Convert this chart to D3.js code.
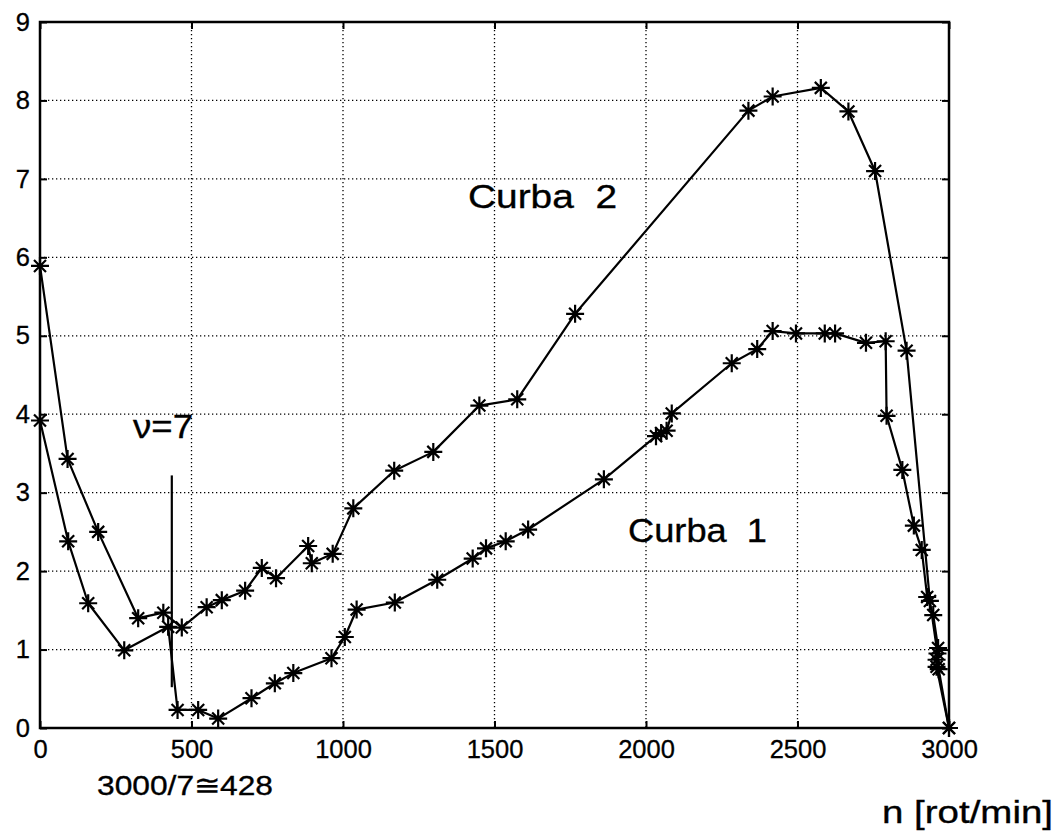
<!DOCTYPE html>
<html>
<head>
    <script src="https://d3js.org/d3.v7.min.js"></script>
    <style>
      body { margin: 0; background: #fff; }
      .tick-label { font-family: 'Liberation Sans', Arial, sans-serif; font-size: 25.5px; fill: #000; stroke: #000; stroke-width: 0.3px; }
      .note { font-family: 'Liberation Sans', Arial, sans-serif; fill: #000; stroke: #000; stroke-width: 0.35px; }
    </style>
</head>
<body>
    <svg width="1060" height="832"></svg>
    <script>
        // Curba 1 (lower curve): n [rot/min], value
        const curba1N = [0, 93, 159, 278, 423, 454, 522, 588, 698, 775, 836, 962, 1006, 1045, 1171, 1311, 1428, 1472, 1537, 1611,
                         1861, 2033, 2050, 2068, 2085, 2283, 2367, 2418, 2495, 2590, 2624, 2726, 2791, 2794, 2846, 2884, 2910,
                         2928, 2948, 2964, 2959, 2959, 3000];
        const curba1V = [3.92, 2.38, 1.59, 0.99, 1.29, 0.23, 0.23, 0.12, 0.38, 0.57, 0.70, 0.89, 1.16, 1.51, 1.60, 1.89, 2.16, 2.29, 2.38, 2.53,
                         3.17, 3.72, 3.76, 3.79, 4.01, 4.65, 4.83, 5.06, 5.03, 5.03, 5.03, 4.91, 4.93, 3.98, 3.29, 2.58, 2.27,
                         1.67, 1.44, 1.02, 0.87, 0.78, 0];

        // Curba 2 (upper curve)
        const curba2N = [0, 91, 192, 324, 407, 468, 550, 600, 677, 732, 779, 885, 897, 966, 1034, 1169, 1298, 1450, 1575, 1766,
                         2338, 2418, 2577, 2668, 2756, 2860, 2937, 2962, 2966, 3000];
        const curba2V = [5.89, 3.43, 2.50, 1.40, 1.47, 1.28, 1.54, 1.63, 1.75, 2.04, 1.91, 2.32, 2.10, 2.22, 2.80, 3.28, 3.52, 4.11, 4.19, 5.28,
                         7.87, 8.05, 8.16, 7.86, 7.10, 4.81, 1.62, 0.95, 0.75, 0];

        const xTicks = [0, 500, 1000, 1500, 2000, 2500, 3000];
        const yTicks = [0, 1, 2, 3, 4, 5, 6, 7, 8, 9];

        // nu = 7 marker line at n ~ 3000/7
        const markN = 435;
        const markV = [0.52, 3.22];

        const svg = d3.select("svg");
        const plotL = 40, plotR = 949, plotT = 22, plotB = 728;

        const x = d3.scaleLinear().domain([0, 3000]).range([plotL, plotR]);
        const y = d3.scaleLinear().domain([0, 9]).range([plotB, plotT]);

        // grid
        svg.append("g").selectAll("line").data(xTicks.slice(1, -1)).join("line")
           .attr("x1", d => x(d)).attr("x2", d => x(d))
           .attr("y1", plotT).attr("y2", plotB)
           .attr("stroke", "#000").attr("stroke-width", 1.3).attr("stroke-dasharray", "1.3,2.7");
        svg.append("g").selectAll("line").data(yTicks.slice(1, -1)).join("line")
           .attr("x1", plotL).attr("x2", plotR)
           .attr("y1", d => y(d)).attr("y2", d => y(d))
           .attr("stroke", "#000").attr("stroke-width", 1.3).attr("stroke-dasharray", "1.3,2.7");

        // axes (ticks inward, box)
        svg.append("g").attr("transform", `translate(0,${plotB})`)
           .call(d3.axisBottom(x).tickValues(xTicks).tickSize(-7).tickPadding(12).tickFormat(d3.format("d")))
           .call(g => g.select(".domain").remove())
           .call(g => g.selectAll("line").attr("stroke-width", 2))
           .selectAll("text").attr("class", "tick-label");
        svg.append("g").attr("transform", `translate(0,${plotT})`)
           .call(d3.axisTop(x).tickValues(xTicks).tickSize(-7).tickFormat(""))
           .call(g => g.select(".domain").remove())
           .call(g => g.selectAll("line").attr("stroke-width", 2));
        svg.append("g").attr("transform", `translate(${plotL},0)`)
           .call(d3.axisLeft(y).tickValues(yTicks).tickSize(-7).tickPadding(10))
           .call(g => g.select(".domain").remove())
           .call(g => g.selectAll("line").attr("stroke-width", 2))
           .selectAll("text").attr("class", "tick-label");
        svg.append("g").attr("transform", `translate(${plotR},0)`)
           .call(d3.axisRight(y).tickValues(yTicks).tickSize(-7).tickFormat(""))
           .call(g => g.select(".domain").remove())
           .call(g => g.selectAll("line").attr("stroke-width", 2));

        svg.append("rect")
           .attr("x", plotL).attr("y", plotT)
           .attr("width", plotR - plotL).attr("height", plotB - plotT)
           .attr("fill", "none").attr("stroke", "#000").attr("stroke-width", 2.5);

        // curves
        const line = d3.line().x(d => x(d[0])).y(d => y(d[1]));
        const series = [
            d3.zip(curba1N, curba1V),
            d3.zip(curba2N, curba2V)
        ];
        series.forEach(pts => {
            svg.append("path").datum(pts)
               .attr("d", line)
               .attr("fill", "none").attr("stroke", "#000").attr("stroke-width", 2.2)
               .attr("stroke-linejoin", "round");

            // asterisk markers
            const r = 9, q = 6;
            const star = `M${-r},0L${r},0M0,${-r}L0,${r}` +
                         `M${-q},${-q}L${q},${q}M${-q},${q}L${q},${-q}`;
            svg.append("g").selectAll("path").data(pts).join("path")
               .attr("transform", d => `translate(${x(d[0])},${y(d[1])})`)
               .attr("d", star)
               .attr("stroke", "#000").attr("stroke-width", 2.2);
        });

        // nu = 7 line
        svg.append("line")
           .attr("x1", x(markN)).attr("x2", x(markN))
           .attr("y1", y(markV[0])).attr("y2", y(markV[1]))
           .attr("stroke", "#000").attr("stroke-width", 2.2);

        // annotations
        const notes = [
            { t: "ν=7", x: 133, y: 438, s: 34, w: 60 },
            { t: "Curba  2", x: 468, y: 208, s: 34, w: 149 },
            { t: "Curba  1", x: 628, y: 542, s: 34, w: 139 },
            { t: "3000/7≅428", x: 97, y: 795, s: 28, w: 176 },
            { t: "n [rot/min]", x: 882, y: 823, s: 32, w: 171 }
        ];
        svg.append("g").selectAll("text").data(notes).join("text")
           .attr("class", "note")
           .attr("x", d => d.x).attr("y", d => d.y)
           .attr("font-size", d => d.s + "px")
           .attr("textLength", d => d.w)
           .attr("lengthAdjust", "spacingAndGlyphs")
           .style("white-space", "pre")
           .text(d => d.t);
    </script>
</body>
</html>
